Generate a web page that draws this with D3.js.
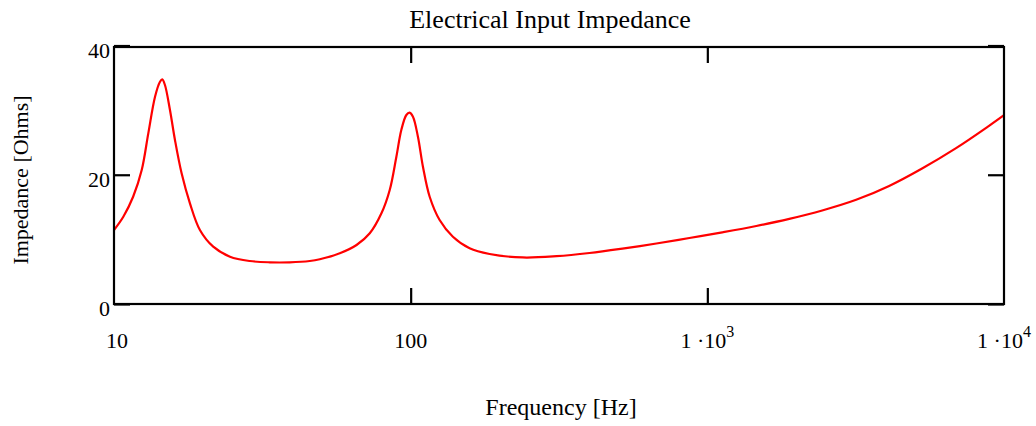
<!DOCTYPE html>
<html>
<head>
<meta charset="utf-8">
<script src="https://cdn.jsdelivr.net/npm/d3@7"></script>
<style>
  html, body { margin: 0; padding: 0; background: #fff; }
  svg { display: block; }
  text { font-family: "Liberation Serif", "Times New Roman", serif; fill: #000; }
</style>
</head>
<body>
<svg id="chart" width="1036" height="426"></svg>
<script>
// Impedance magnitude (Ohms) against frequency (Hz)
const frequency = [10, 10.75, 11.6, 12.4, 13.05, 13.75, 14.29, 14.54, 14.85, 15.44,
  16.05, 16.9, 18.03, 19.48, 21.6, 24.6, 28.7, 33.5, 39.1, 45.7,
  49.4, 57.7, 65.7, 72.8, 79.7, 85.0, 89.5, 93.0, 96.7, 99.2,
  101.8, 105.8, 110.0, 115.9, 125.2, 138.8, 158.0, 184.5, 238.4, 310.2,
  400.6, 517.3, 673.4, 869.8, 1123, 1462, 1889, 2439, 3174, 4100,
  5295, 6893, 8903, 10000];
const impedance = [11.45, 13.51, 16.6, 20.73, 26.41, 32.08, 34.4, 34.77, 33.89, 30.02,
  25.38, 20.22, 15.58, 11.45, 8.87, 7.32, 6.65, 6.45, 6.45, 6.65,
  6.92, 7.85, 9.13, 10.94, 14.03, 17.64, 22.79, 26.92, 29.25, 29.6,
  28.98, 25.89, 21.25, 16.6, 13.0, 10.41, 8.62, 7.74, 7.2, 7.4,
  7.89, 8.57, 9.36, 10.21, 11.09, 12.07, 13.17, 14.47, 16.12, 18.27,
  20.97, 24.12, 27.57, 29.22];

const xTicks = [10, 100, 1000, 10000];
const xTickMantissa = ["10", "100", "1 \u00b710", "1 \u00b710"];
const xTickExponent = ["", "", "3", "4"];
const yTicks = [0, 20, 40];

const titleText = "Electrical Input Impedance";
const xLabelText = "Frequency [Hz]";
const yLabelText = "Impedance [Ohms]";

const svg = d3.select("#chart");
const plotLeft = 114, plotRight = 1004, plotBottom = 304, plotTop = 47;

const x = d3.scaleLog().domain([10, 10000]).range([plotLeft, plotRight]);
const y = d3.scaleLinear().domain([0, 40]).range([plotBottom, 45.5]);

const data = frequency.map((f, i) => ({ f, z: impedance[i] }));

// curve
const line = d3.line()
  .x(d => x(d.f))
  .y(d => y(d.z))
  .curve(d3.curveCatmullRom.alpha(0.5));

svg.append("path")
  .datum(data)
  .attr("d", line)
  .attr("fill", "none")
  .attr("stroke", "#ff0000")
  .attr("stroke-width", 2.2)
  .attr("stroke-linejoin", "round");

// frame
svg.append("rect")
  .attr("x", plotLeft).attr("y", plotTop)
  .attr("width", plotRight - plotLeft).attr("height", plotBottom - plotTop)
  .attr("fill", "none").attr("stroke", "#000").attr("stroke-width", 2.2);

const tickLen = 16;

// inward ticks on all four sides
const axL = d3.axisRight(y).tickValues(yTicks).tickSize(tickLen).tickFormat("");
const axR = d3.axisLeft(y).tickValues(yTicks).tickSize(tickLen).tickFormat("");
const inner = [100, 1000];
const axB = d3.axisTop(x).tickValues(inner).tickSize(tickLen).tickFormat("");
const axT = d3.axisBottom(x).tickValues(inner).tickSize(tickLen).tickFormat("");

function styleAxis(g) {
  g.select(".domain").remove();
  g.selectAll("line").attr("stroke", "#000").attr("stroke-width", 2.2);
}
svg.append("g").attr("transform", `translate(${plotLeft},0)`).call(axL).call(styleAxis);
svg.append("g").attr("transform", `translate(${plotRight},0)`).call(axR).call(styleAxis);
svg.append("g").attr("transform", `translate(0,${plotBottom})`).call(axB).call(styleAxis);
svg.append("g").attr("transform", `translate(0,${plotTop})`).call(axT).call(styleAxis);

// y tick labels
svg.append("g").selectAll("text")
  .data(yTicks)
  .join("text")
  .attr("x", plotLeft - 4)
  .attr("y", d => y(d) + 12)
  .attr("text-anchor", "end")
  .style("font-size", "22px")
  .text(d => d);

// x tick labels with powers of ten
const xl = svg.append("g").selectAll("text")
  .data(xTicks)
  .join("text")
  .attr("x", (d, i) => x(d) + (i === 0 ? 3 : 0))
  .attr("y", 348)
  .attr("text-anchor", "middle")
  .style("font-size", "22px");
xl.append("tspan").text((d, i) => xTickMantissa[i]);
xl.append("tspan")
  .attr("dy", -11)
  .style("font-size", "16px")
  .text((d, i) => xTickExponent[i]);

// titles
svg.append("text")
  .attr("x", 550).attr("y", 28)
  .attr("text-anchor", "middle")
  .style("font-size", "26px")
  .text(titleText);

svg.append("text")
  .attr("x", 561).attr("y", 415)
  .attr("text-anchor", "middle")
  .style("font-size", "24px")
  .text(xLabelText);

svg.append("text")
  .attr("transform", "translate(28,180) rotate(-90)")
  .attr("text-anchor", "middle")
  .style("font-size", "22px")
  .text(yLabelText);
</script>
</body>
</html>
